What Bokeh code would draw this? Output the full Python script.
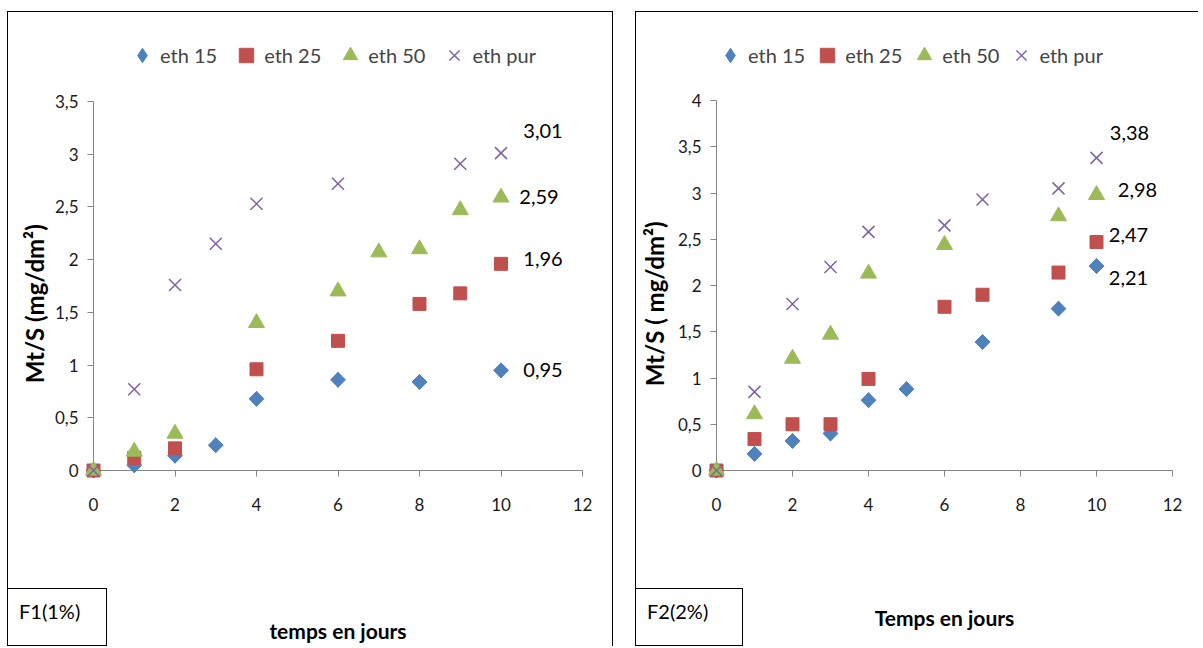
import math
from bokeh.plotting import figure
from bokeh.models import (ColumnDataSource, Legend, LegendItem, Div,
                          CustomJSTickFormatter, FixedTicker, Range1d)
from bokeh.layouts import row, column
from bokeh.embed import file_html
from bokeh.resources import INLINE
from bokeh.core.properties import value

FONT = "Lato"
SERIES = ["eth 15", "eth 25", "eth 50", "eth pur"]
COLORS = ["#4F81BD", "#C0504D", "#9BBB59", "#8064A2"]

x_ticks = [0, 2, 4, 6, 8, 10, 12]
f1_y_ticks = [0, 0.5, 1, 1.5, 2, 2.5, 3, 3.5]
f2_y_ticks = [0, 0.5, 1, 1.5, 2, 2.5, 3, 3.5, 4]

# F1 (1%)
f1_eth15_x = [0, 1, 2, 3, 4, 6, 8, 10]
f1_eth15_y = [0, 0.05, 0.14, 0.24, 0.68, 0.86, 0.84, 0.95]
f1_eth25_x = [0, 1, 2, 4, 6, 8, 9, 10]
f1_eth25_y = [0, 0.12, 0.21, 0.96, 1.23, 1.58, 1.68, 1.96]
f1_eth50_x = [0, 1, 2, 4, 6, 7, 8, 9, 10]
f1_eth50_y = [0, 0.18, 0.35, 1.40, 1.70, 2.07, 2.10, 2.47, 2.59]
f1_pur_x = [0, 1, 2, 3, 4, 6, 9, 10]
f1_pur_y = [0, 0.77, 1.76, 2.15, 2.53, 2.72, 2.91, 3.01]

# F2 (2%)
f2_eth15_x = [0, 1, 2, 3, 4, 5, 7, 9, 10]
f2_eth15_y = [0, 0.18, 0.32, 0.40, 0.76, 0.88, 1.39, 1.75, 2.21]
f2_eth25_x = [0, 1, 2, 3, 4, 6, 7, 9, 10]
f2_eth25_y = [0, 0.34, 0.50, 0.50, 0.99, 1.77, 1.90, 2.14, 2.47]
f2_eth50_x = [0, 1, 2, 3, 4, 6, 9, 10]
f2_eth50_y = [0, 0.61, 1.21, 1.47, 2.13, 2.44, 2.75, 2.98]
f2_pur_x = [0, 1, 2, 3, 4, 6, 7, 9, 10]
f2_pur_y = [0, 0.85, 1.80, 2.20, 2.58, 2.65, 2.93, 3.05, 3.38]

# styling (kept apart from data)
MARKERS = [dict(marker="square", angle=math.pi / 4, size=10.5),
           dict(marker="square", size=13),
           dict(marker="triangle", size=16),
           dict(marker="x", size=17, line_width=1.5)]
LEGEND_MARKERS = ["diamond", "square", "triangle", "x"]
NBSP_PAD = "\u00a0" * 20   # pushes the y title's centre down to the axis' middle


def fmt(v):
    return ("%.2f" % v).replace(".", ",")


def make_chart(series, yticks, y_top, width, mb_left, mb_right,
               label_offsets, xlabel, ylabel, legend_vx, legend_spacing,
               xlab_standoff, ylab_standoff, borders):
    # y_top leaves room above the last tick for the legend (axis stops at last tick)
    p = figure(width=width, height=635,
               output_backend="svg", toolbar_location=None, title_location=None,
               x_range=Range1d(0, 12), y_range=Range1d(0, y_top),
               min_border_left=mb_left, min_border_top=8,
               min_border_bottom=177, min_border_right=mb_right,
               styles=borders)
    p.grid.visible = False
    p.outline_line_color = None
    p.background_fill_color = "white"
    p.border_fill_color = "white"

    for ax in (p.xaxis[0], p.yaxis[0]):
        ax.axis_line_color = "#868686"
        ax.major_tick_line_color = "#868686"
        ax.major_tick_out = 6
        ax.major_tick_in = 0
        ax.minor_tick_line_color = None
        ax.major_label_text_font = FONT
        ax.major_label_text_font_size = "17px"
        ax.major_label_text_color = "#1a1a1a"
        ax.axis_label_text_font = FONT
        ax.axis_label_text_font_style = "bold"
        ax.axis_label_text_color = "black"
        ax.formatter = CustomJSTickFormatter(code="return tick.toString().replace('.', ',')")
    p.xaxis.ticker = FixedTicker(ticks=x_ticks)
    p.yaxis.ticker = FixedTicker(ticks=yticks)
    p.yaxis.bounds = (yticks[0], yticks[-1])
    p.xaxis.major_label_standoff = 21
    p.yaxis.major_label_standoff = 9
    p.xaxis.axis_label = xlabel
    p.yaxis.axis_label = ylabel + NBSP_PAD
    p.xaxis.axis_label_text_font_size = "21px"
    p.yaxis.axis_label_text_font_size = "24px"
    p.xaxis.axis_label_standoff = xlab_standoff
    p.yaxis.axis_label_standoff = ylab_standoff

    items = []
    for (name, xs, ys), color, mk, lmk in zip(series, COLORS, MARKERS, LEGEND_MARKERS):
        src = ColumnDataSource(dict(x=xs, y=ys))
        legend_r = None
        if lmk != mk["marker"]:
            # same points drawn as a (narrower) diamond that sits inside the
            # rotated square: it gives the legend its diamond swatch
            legend_r = p.scatter("x", "y", source=src, marker=lmk, size=mk["size"] * 1.41,
                                 fill_color=color, line_color=color, level="overlay")
        r = p.scatter("x", "y", source=src, fill_color=color, line_color=color,
                      level="overlay", **mk)
        items.append(LegendItem(label=name, renderers=[legend_r or r]))

    lab = ColumnDataSource(dict(
        x=[s[1][-1] for s in series], y=[s[2][-1] for s in series],
        text=[fmt(s[2][-1]) for s in series],
        xo=[o[0] for o in label_offsets], yo=[o[1] for o in label_offsets]))
    p.text(x="x", y="y", text="text", source=lab, x_offset="xo", y_offset="yo",
           text_font=value(FONT), text_font_size="20px", text_color="black",
           text_align="center", text_baseline="middle", level="overlay")

    legend = Legend(items=items, orientation="horizontal",
                    location=(legend_vx, 397), glyph_width=36, glyph_height=36,
                    label_standoff=0, spacing=legend_spacing, padding=0, margin=0,
                    border_line_color=None, background_fill_alpha=0,
                    label_text_font=FONT, label_text_font_size="20px")
    p.add_layout(legend)
    return p


def make_box(text, width):
    return Div(text='<div style="padding:8px 0 0 11px;font-family:Lato;'
                    'font-size:20px;color:black;">%s</div>' % text,
               width=width, height=58, margin=(-58, 0, 0, 0),
               styles={"border": "1px solid black", "background": "white",
                       "box-sizing": "border-box"})


f1_series = [(SERIES[0], f1_eth15_x, f1_eth15_y), (SERIES[1], f1_eth25_x, f1_eth25_y),
             (SERIES[2], f1_eth50_x, f1_eth50_y), (SERIES[3], f1_pur_x, f1_pur_y)]
f2_series = [(SERIES[0], f2_eth15_x, f2_eth15_y), (SERIES[1], f2_eth25_x, f2_eth25_y),
             (SERIES[2], f2_eth50_x, f2_eth50_y), (SERIES[3], f2_pur_x, f2_pur_y)]

f1_label_offsets = [(42, 0), (42, -5), (38, 0), (42, -22)]
f2_label_offsets = [(32, 12), (32, -7), (41, -5), (33, -25)]

left = make_chart(f1_series, f1_y_ticks, 4.268, 606, 85, 32, f1_label_offsets,
                  "temps en jours", "Mt/S (mg/dm\u00b2)", 31, 11, 104, 3,
                  {"border-top": "1px solid black", "border-left": "1px solid black",
                   "border-right": "1px solid black"})
right = make_chart(f2_series, f2_y_ticks, 4.865, 563, 78, 27, f2_label_offsets,
                   "Temps en jours", "Mt/S ( mg/dm\u00b2)", -4, 4, 91, 6,
                   {"border-top": "1px solid black", "border-left": "1px solid black"})

left_col = column(left, make_box("F1(1%)", 100))
right_col = column(right, make_box("F2(2%)", 108))

layout = row(left_col, right_col, spacing=22, margin=(11, 0, 0, 7))
open("out.html", "w").write(file_html(layout, INLINE))
